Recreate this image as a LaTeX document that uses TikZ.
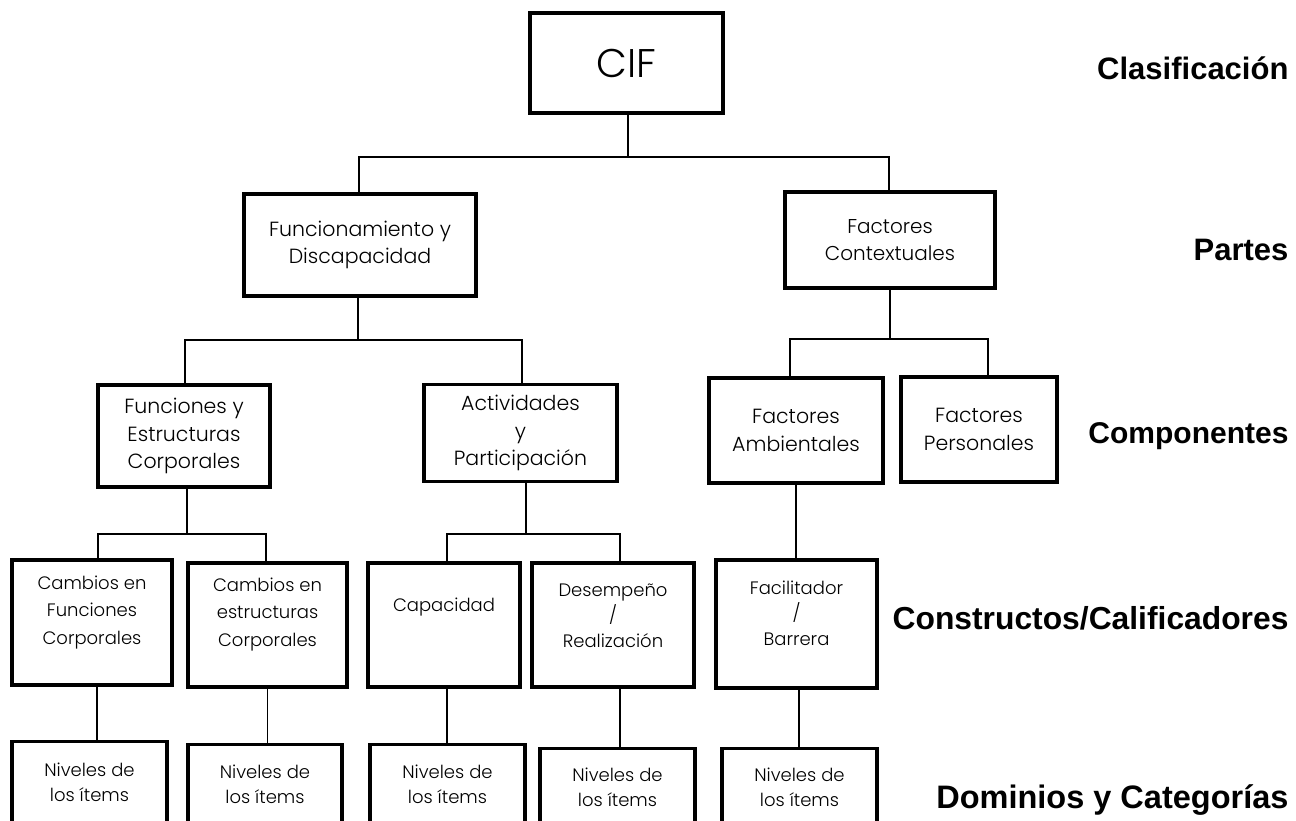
\documentclass[tikz,border=0pt]{standalone}
\usepackage{fontspec}
\setmainfont{Poppins Light}
\newfontfamily\labelfont{Liberation Sans}
\begin{document}
\begin{tikzpicture}[x=1pt,y=-1pt,
  box/.style={draw=black,line width=3.3pt,fill=white,inner sep=0pt,align=center},
  conn/.style={draw=black,line width=1.7pt},
  lvl/.style={anchor=east,font=\labelfont\bfseries\fontsize{#1}{36}\selectfont},
  lvl/.default=31,
  txtA/.style={font=\fontsize{20.5}{27.5}\selectfont},
  txtB/.style={font=\fontsize{18}{27.5}\selectfont},
  txtC/.style={font=\fontsize{18}{25.5}\selectfont}]
\useasboundingbox (0,0) rectangle (1296,820);

% classification root
\node[box,minimum width=193pt,minimum height=100pt,font=\fontsize{40}{46}\selectfont] (cif) at (626.5,63) {CIF};

% parts
\node[box,minimum width=232pt,minimum height=102pt,txtA] (fd) at (360,245) {Funcionamiento y\\Discapacidad};
\node[box,minimum width=210pt,minimum height=96pt,font=\fontsize{20}{27}\selectfont] (fc) at (890,240) {Factores\\Contextuales};

% components
\node[box,minimum width=172pt,minimum height=102pt,txtA] (fe) at (184,436) {Funciones y\\Estructuras\\Corporales};
\node[box,minimum width=193pt,minimum height=97pt,txtA] (ap) at (520.5,433) {Actividades\\y\\Participación};
\node[box,minimum width=174pt,minimum height=105pt,txtA] (fa) at (796,430.5) {Factores\\Ambientales};
\node[box,minimum width=156pt,minimum height=105pt,txtA] (fp) at (979,429.5) {Factores\\Personales};

% constructs / qualifiers
\node[box,minimum width=160pt,minimum height=125pt] (cf) at (92,622.5) {};
\node[txtB,align=center,anchor=north] (cft) at (92,572) {Cambios en\\Funciones\\Corporales};
\node[box,minimum width=159pt,minimum height=124pt] (ce) at (267.5,625) {};
\node[txtB,align=center,anchor=north] (cet) at (267.5,574) {Cambios en\\estructuras\\Corporales};
\node[box,minimum width=152pt,minimum height=124pt] (cap) at (444,625) {};
\node[txtB,anchor=north] (capt) at (444,594) {Capacidad};
\node[box,minimum width=162pt,minimum height=124pt] (des) at (613,625) {};
\node[txtC,align=center,anchor=north] (dest) at (613,580) {Desempeño\\/\\Realización};
\node[box,minimum width=161pt,minimum height=128pt] (fb) at (796.5,624) {};
\node[txtC,align=center,anchor=north] (fbt) at (796.5,577) {Facilitador\\/\\Barrera};

% domains and categories
\node[box,minimum width=155pt,minimum height=120pt,anchor=north] (n1) at (89.5,740) {};
\node[box,minimum width=154pt,minimum height=120pt,anchor=north] (n2) at (265,743) {};
\node[box,minimum width=155pt,minimum height=120pt,anchor=north] (n3) at (447.5,743) {};
\node[box,minimum width=155pt,minimum height=120pt,anchor=north] (n4) at (617.5,747) {};
\node[box,minimum width=155pt,minimum height=120pt,anchor=north] (n5) at (799.5,747) {};
\foreach \n/\y in {n1/759,n2/761,n3/761,n4/764,n5/764}{
  \node[txtC,align=center,anchor=north] (\n t) at (\n.north |- 0,\y) {Niveles de\\los ítems};
}

% level labels
\node[lvl] (l1) at (1292,68) {Clasificación};
\node[lvl] (l2) at (1292,250) {Partes};
\node[lvl=30] (l3) at (1292,436) {Componentes};
\node[lvl=31.8] (l4) at (1292,618) {Constructos/Calificadores};
\node[lvl=32.5] (l5) at (1292,800) {Dominios y Categorías};

% connectors
\coordinate (j1) at (628,157);
\draw[conn] (cif.south -| j1) -- (j1);
\draw[conn] ([xshift=-1pt]fd.north) |- (j1) -| ([xshift=-1pt]fc.north);

\coordinate (j2) at (358,340);
\draw[conn] (fd.south -| j2) -- (j2);
\draw[conn] ([xshift=1pt]fe.north) |- (j2) -| ([xshift=1.5pt]ap.north);

\coordinate (j3) at (890,339);
\draw[conn] (fc.south -| j3) -- (j3);
\draw[conn] ([xshift=-6pt]fa.north) |- (j3) -| ([xshift=9pt]fp.north);

\draw[conn] (fa.south) -- (fb.north -| fa.south);

\coordinate (j4) at (187,534);
\draw[conn] (fe.south -| j4) -- (j4);
\draw[conn] ([xshift=6pt]cf.north) |- (j4) -| ([xshift=-1.5pt]ce.north);

\coordinate (j5) at (526,534);
\draw[conn] (ap.south -| j5) -- (j5);
\draw[conn] ([xshift=3pt]cap.north) |- (j5) -| ([xshift=7pt]des.north);

\draw[conn] ([xshift=5pt]cf.south) -- ([xshift=5pt]cf.south |- n1.north);
\draw[conn] (ce.south) -- (ce.south |- n2.north);
\draw[conn] ([xshift=3pt]cap.south) -- ([xshift=3pt]cap.south |- n3.north);
\draw[conn] ([xshift=7pt]des.south) -- ([xshift=7pt]des.south |- n4.north);
\draw[conn] ([xshift=2.5pt]fb.south) -- ([xshift=2.5pt]fb.south |- n5.north);
\end{tikzpicture}
\end{document}
